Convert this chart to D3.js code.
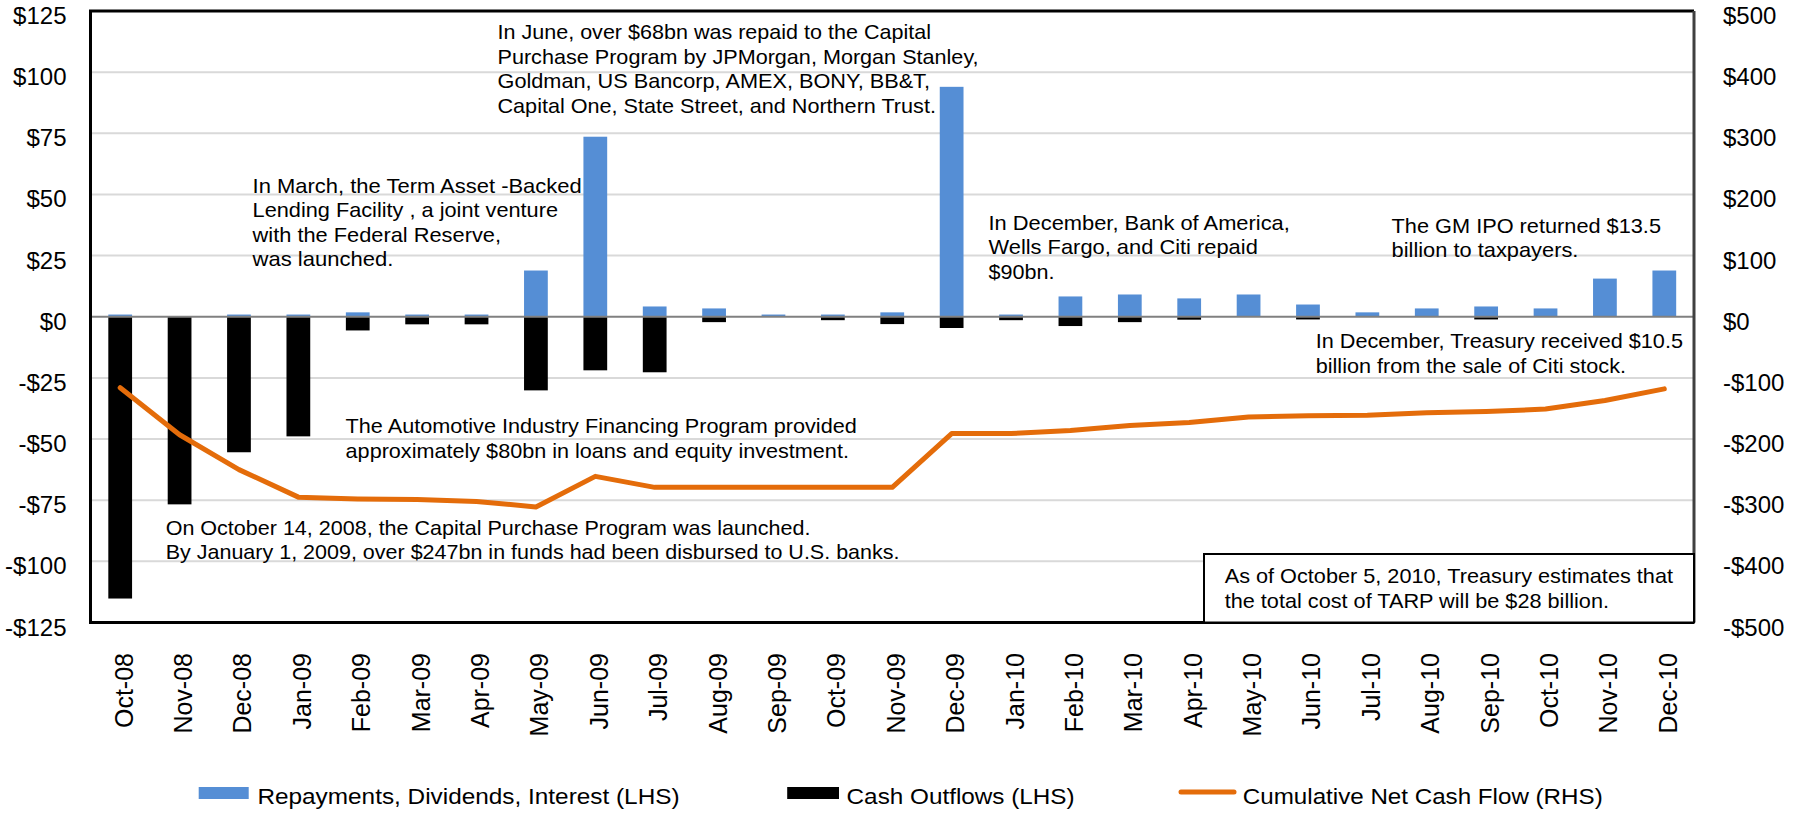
<!DOCTYPE html>
<html>
<head>
<meta charset="utf-8">
<script src="https://cdn.jsdelivr.net/npm/d3@7"></script>
<style>
  html, body { margin: 0; padding: 0; background: #fff; }
  svg { display: block; }
  text { font-family: "Liberation Sans", Arial, sans-serif; fill: #000; }
</style>
</head>
<body>
<svg id="chart" width="1806" height="815"></svg>
<script>
// ---------------- data ----------------
const months = ["Oct-08","Nov-08","Dec-08","Jan-09","Feb-09","Mar-09","Apr-09","May-09","Jun-09","Jul-09",
  "Aug-09","Sep-09","Oct-09","Nov-09","Dec-09","Jan-10","Feb-10","Mar-10","Apr-10","May-10","Jun-10",
  "Jul-10","Aug-10","Sep-10","Oct-10","Nov-10","Dec-10"];
const repayments = [0.9,0,0.9,0.9,1.8,0.9,0.9,18.9,73.6,4.2,3.4,0.9,0.9,1.8,94.0,0.9,8.3,9.1,7.5,9.1,5.0,1.8,3.4,4.2,3.4,15.6,18.9];
const outflows = [-115.2,-76.7,-55.4,-48.9,-5.6,-3.1,-3.1,-30.1,-21.9,-22.7,-2.2,0,-1.4,-3.0,-4.6,-1.4,-3.8,-2.2,-1.2,0,-1.1,0,0,-1.1,0,0,0];
const cumulative = [-116,-193,-250,-295,-298,-299,-302,-311,-261,-279,-279,-279,-279,-279,-191,-191,-186,-178,-173,-164,-162,-161,-157,-155,-151,-137,-118];
const leftTicks = [125,100,75,50,25,0,-25,-50,-75,-100,-125];
const rightTicks = [500,400,300,200,100,0,-100,-200,-300,-400,-500];
const seriesNames = ["Repayments, Dividends, Interest (LHS)","Cash Outflows (LHS)","Cumulative Net Cash Flow (RHS)"];
const colors = {repay:"#558ED5", out:"#000000", cum:"#E46C0A"};

// annotations: text lines + layout
const notes = [
  {x:497.5, y:39.3, lines:["In June, over $68bn was repaid to the Capital","Purchase Program by JPMorgan, Morgan Stanley,","Goldman, US Bancorp, AMEX, BONY, BB&T,","Capital One, State Street, and Northern Trust."], ends:[931,978.6,930,935.9]},
  {x:252.6, y:192.7, lines:["In March, the Term Asset -Backed","Lending Facility , a joint venture","with the Federal Reserve,","was launched."], ends:[581.7,558,501,393.4]},
  {x:988.5, y:230, lines:["In December, Bank of America,","Wells Fargo, and Citi repaid","$90bn."], ends:[1289.8,1257.8,1054.5]},
  {x:1391.6, y:232.7, lines:["The GM IPO returned $13.5","billion to taxpayers."], ends:[1661,1578.4]},
  {x:1315.7, y:348.3, lines:["In December, Treasury received $10.5","billion from the sale of Citi stock."], ends:[1683,1626]},
  {x:1224.7, y:583.3, lines:["As of October 5, 2010, Treasury estimates that","the total cost of TARP will be $28 billion."], ends:[1673,1609]},
  {x:345.6, y:433.3, lines:["The Automotive Industry Financing Program provided","approximately $80bn in loans and equity investment."], ends:[856.8,848.9]},
  {x:165.7, y:535, lines:["On October 14, 2008, the Capital Purchase Program was launched.","By January 1, 2009, over $247bn in funds had been disbursed to U.S. banks."], ends:[810.5,899.5]}
];

// ---------------- layout ----------------
const L = 90.5, R = 1694, T = 11, B = 622.5;
const svg = d3.select("#chart");
svg.append("rect").attr("width",1806).attr("height",815).attr("fill","#fff");

const x = d3.scaleBand().domain(months).range([L,R]).paddingInner(0.6).paddingOuter(0.3);
const yL = d3.scaleLinear().domain([-125,125]).range([B,T]);
const yR = d3.scaleLinear().domain([-500,500]).range([B,T]);
const fmt = v => (v < 0 ? "-" : "") + "$" + Math.abs(v);

// gridlines
svg.append("g").selectAll("line").data(leftTicks.filter(v => Math.abs(v) < 125 && v !== 0)).join("line")
  .attr("x1",L).attr("x2",R).attr("y1",d=>yL(d)).attr("y2",d=>yL(d))
  .attr("stroke","#d9d9d9").attr("stroke-width",2);

// bars
svg.append("g").selectAll("rect").data(months).join("rect")
  .attr("x",d=>x(d)).attr("width",x.bandwidth())
  .attr("y",(d,i)=>yL(repayments[i])).attr("height",(d,i)=>yL(0)-yL(repayments[i]))
  .attr("fill",colors.repay);
svg.append("g").selectAll("rect").data(months).join("rect")
  .attr("x",d=>x(d)).attr("width",x.bandwidth())
  .attr("y",yL(0)).attr("height",(d,i)=>yL(outflows[i])-yL(0))
  .attr("fill",colors.out);

// zero line
svg.append("line").attr("x1",L).attr("x2",R).attr("y1",yL(0)).attr("y2",yL(0))
  .attr("stroke","#808080").attr("stroke-width",2);

// cumulative line
const line = d3.line().x((d,i)=>x(months[i]) + x.bandwidth()/2).y(d=>yR(d));
svg.append("path").datum(cumulative).attr("d",line)
  .attr("fill","none").attr("stroke",colors.cum).attr("stroke-width",5)
  .attr("stroke-linejoin","round").attr("stroke-linecap","round");

// frame
svg.append("path").attr("d",`M${R},${T} L${L},${T} L${L},${B} L${R},${B}`)
  .attr("fill","none").attr("stroke","#000").attr("stroke-width",3);
svg.append("line").attr("x1",R).attr("x2",R).attr("y1",T).attr("y2",B)
  .attr("stroke","#404040").attr("stroke-width",3);

// axes
const axL = svg.append("g").attr("transform",`translate(${L},0)`)
  .call(d3.axisLeft(yL).tickValues(leftTicks).tickSize(0).tickPadding(24).tickFormat(fmt));
axL.select(".domain").remove();
axL.selectAll("text").attr("font-size",24).attr("font-family",null).attr("dy",null).attr("y",12.5);

const axR = svg.append("g").attr("transform",`translate(${R},0)`)
  .call(d3.axisRight(yR).tickValues(rightTicks).tickSize(0).tickPadding(29).tickFormat(fmt));
axR.select(".domain").remove();
axR.selectAll("text").attr("font-size",24).attr("font-family",null).attr("dy",null).attr("y",12.5);

const axB = svg.append("g").attr("transform",`translate(0,${B})`)
  .call(d3.axisBottom(x).tickSize(0).tickPadding(0));
axB.select(".domain").remove();
axB.selectAll("text")
  .attr("font-size",25).attr("font-family",null)
  .attr("transform","rotate(-90)")
  .attr("text-anchor","end")
  .attr("x",-(653 - B)).attr("y",0).attr("dy","0.5em");

// annotation box
svg.append("rect").attr("x",1204).attr("y",554).attr("width",R-1204).attr("height",B-554)
  .attr("fill","#fff").attr("stroke","#000").attr("stroke-width",2);

// annotations
const ng = svg.append("g");
notes.forEach(n => {
  n.lines.forEach((t,i) => {
    ng.append("text").attr("x",n.x).attr("y",n.y + i*24.45)
      .attr("font-size",21)
      .attr("textLength",n.ends[i]-n.x).attr("lengthAdjust","spacingAndGlyphs")
      .text(t);
  });
});

// legend
const lg = svg.append("g");
lg.append("rect").attr("x",198.7).attr("y",787).attr("width",50).attr("height",12).attr("fill",colors.repay);
lg.append("text").attr("x",257.4).attr("y",804).attr("font-size",22)
  .attr("textLength",679.6-257.4).attr("lengthAdjust","spacingAndGlyphs").text(seriesNames[0]);
lg.append("rect").attr("x",787.2).attr("y",787).attr("width",51.8).attr("height",12).attr("fill",colors.out);
lg.append("text").attr("x",846.6).attr("y",804).attr("font-size",22)
  .attr("textLength",1074.6-846.6).attr("lengthAdjust","spacingAndGlyphs").text(seriesNames[1]);
lg.append("line").attr("x1",1181).attr("x2",1234).attr("y1",792).attr("y2",792)
  .attr("stroke",colors.cum).attr("stroke-width",5).attr("stroke-linecap","round");
lg.append("text").attr("x",1242.8).attr("y",804).attr("font-size",22)
  .attr("textLength",1602.7-1242.8).attr("lengthAdjust","spacingAndGlyphs").text(seriesNames[2]);
</script>
</body>
</html>
